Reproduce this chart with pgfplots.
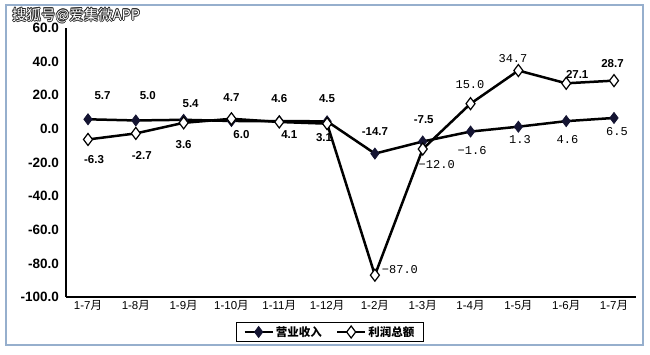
\documentclass[border=0pt]{standalone}
\usepackage{fontspec}
\setmainfont{Liberation Sans}
\newfontfamily\cjk{Noto Sans CJK SC}
\newfontfamily\monofont{Liberation Mono}
\usepackage{pgfplots}
\pgfplotsset{compat=1.18}
\definecolor{framecol}{RGB}{150,175,205}
\definecolor{navy}{RGB}{20,20,50}
\tikzset{
  bl/.style={font=\bfseries\fontsize{11.5}{13}\selectfont, inner sep=0pt, anchor=center},
  ml/.style={font=\monofont\fontsize{12}{14}\selectfont, inner sep=0pt, anchor=center}
}
\begin{document}
\begin{tikzpicture}[x=1pt,y=1pt]
\useasboundingbox (0,0) rectangle (650,354);
\draw[draw=framecol, line width=1.5pt] (6,9) rectangle (643,349);
\begin{axis}[
  at={(66pt,57pt)}, anchor=south west,
  width=570pt, height=269pt, scale only axis,
  xmin=-0.46, xmax=11.46, ymin=-100, ymax=60,
  axis lines=left, axis line style={-},
  x axis line style={line width=1.5pt},
  y axis line style={line width=2.2pt},
  major tick length=0pt,
  xtick={0,...,11},
  xticklabels={1-7{\cjk 月},1-8{\cjk 月},1-9{\cjk 月},1-10{\cjk 月},1-11{\cjk 月},1-12{\cjk 月},1-2{\cjk 月},1-3{\cjk 月},1-4{\cjk 月},1-5{\cjk 月},1-6{\cjk 月},1-7{\cjk 月}},
  xticklabel style={font=\fontsize{11.5}{13}\selectfont, anchor=north, inner sep=0pt, yshift=-3pt},
  ytick={-100,-80,...,60},
  yticklabel style={font=\bfseries\fontsize{13.5}{15}\selectfont, anchor=east, inner sep=0pt, xshift=-7pt,
    /pgf/number format/.cd, fixed, fixed zerofill, precision=1, assume math mode=true},
  clip=false,
  legend columns=2,
  legend style={at={(axis description cs:0.463,-0.13)}, anchor=center, draw=black, line width=1.3pt,
    font=\cjk\bfseries\fontsize{11.5}{13}\selectfont, inner xsep=7pt, inner ysep=2pt,
    /tikz/every even column/.append style={column sep=12pt}},
  legend image code/.code={\draw[mark repeat=2,mark phase=2,#1] plot coordinates {(0pt,0pt) (14pt,0pt) (28pt,0pt)};},
]
\addplot[line width=2.5pt, black, mark=diamond*, mark size=5.5pt, mark options={fill=navy, draw=navy, line width=0.8pt}]
  coordinates {(0,5.7) (1,5.0) (2,5.4) (3,4.7) (4,4.6) (5,4.5) (6,-14.7) (7,-7.5) (8,-1.6) (9,1.3) (10,4.6) (11,6.5)};
\addlegendentry{营业收入}
\addplot[line width=2.5pt, black, mark=diamond*, mark size=6pt, mark options={fill=white, draw=black, line width=1.2pt}]
  coordinates {(0,-6.3) (1,-2.7) (2,3.6) (3,6.0) (4,4.1) (5,3.1) (6,-87.0) (7,-12.0) (8,15.0) (9,34.7) (10,27.1) (11,28.7)};
\addlegendentry{利润总额}
% revenue labels
\node[bl, xshift=14.5pt, yshift=23.3pt] at (axis cs:0,5.7) {5.7};
\node[bl, xshift=12pt, yshift=24.5pt] at (axis cs:1,5.0) {5.0};
\node[bl, xshift=7pt, yshift=16pt] at (axis cs:2,5.4) {5.4};
\node[bl, yshift=23pt] at (axis cs:3,4.7) {4.7};
\node[bl, yshift=23pt] at (axis cs:4,4.6) {4.6};
\node[bl, yshift=23pt] at (axis cs:5,4.5) {4.5};
\node[bl, yshift=21.6pt] at (axis cs:6,-14.7) {-14.7};
\node[bl, xshift=1pt, yshift=21.5pt] at (axis cs:7,-7.5) {-7.5};
\node[ml, xshift=1.5pt, yshift=-19.4pt] at (axis cs:8,-1.6) {−1.6};
\node[ml, xshift=1.6pt, yshift=-12.8pt] at (axis cs:9,1.3) {1.3};
\node[ml, xshift=1.3pt, yshift=-18.8pt] at (axis cs:10,4.6) {4.6};
\node[ml, xshift=3pt, yshift=-14pt] at (axis cs:11,6.5) {6.5};
% profit labels
\node[bl, xshift=6pt, yshift=-20.5pt] at (axis cs:0,-6.3) {-6.3};
\node[bl, xshift=6pt, yshift=-21.6pt] at (axis cs:1,-2.7) {-2.7};
\node[bl, yshift=-22pt] at (axis cs:2,3.6) {3.6};
\node[bl, xshift=10pt, yshift=-16pt] at (axis cs:3,6.0) {6.0};
\node[bl, xshift=10pt, yshift=-13pt] at (axis cs:4,4.1) {4.1};
\node[bl, xshift=-3pt, yshift=-13.5pt] at (axis cs:5,3.1) {3.1};
\node[ml, xshift=25pt, yshift=6pt] at (axis cs:6,-87.0) {−87.0};
\node[ml, xshift=14pt, yshift=-15pt] at (axis cs:7,-12.0) {−12.0};
\node[ml, xshift=-0.6pt, yshift=19pt] at (axis cs:8,15.0) {15.0};
\node[ml, xshift=-5.4pt, yshift=11.6pt] at (axis cs:9,34.7) {34.7};
\node[bl, xshift=11pt, yshift=9.3pt] at (axis cs:10,27.1) {27.1};
\node[bl, xshift=-1.5pt, yshift=16.7pt] at (axis cs:11,28.7) {28.7};
\end{axis}
% watermark
\foreach \dx/\dy in {-0.7/0,0.7/0,0/-0.7,0/0.7,-0.5/-0.5,0.5/0.5,-0.5/0.5,0.5/-0.5}{
  \node[anchor=west, inner sep=0pt, text=black!85, font=\cjk\fontsize{14.5}{16}\selectfont] at (12+\dx,338.5+\dy) {搜狐号@爱集微APP};
}
\node[anchor=west, inner sep=0pt, text=white, font=\cjk\fontsize{14.5}{16}\selectfont] at (12,338.5) {搜狐号@爱集微APP};
\end{tikzpicture}
\end{document}
